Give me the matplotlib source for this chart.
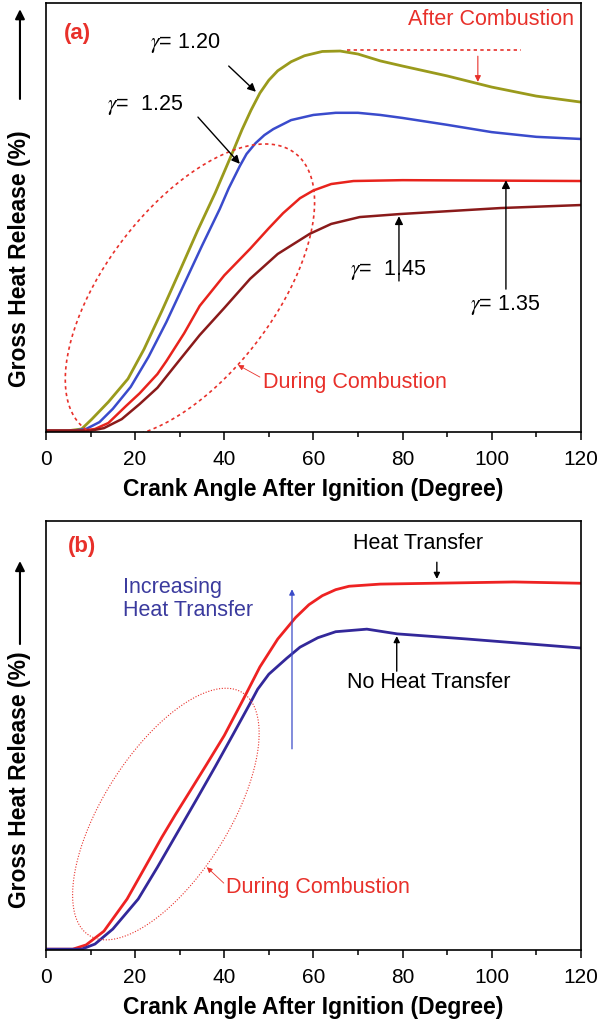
import numpy as np
import matplotlib
matplotlib.use("Agg")
import matplotlib.pyplot as plt
from matplotlib.ticker import MultipleLocator

plt.rcParams['font.family'] = ['Liberation Sans', 'DejaVu Sans']
plt.rcParams['mathtext.fontset'] = 'stix'

# ---- panel (a): gross heat release for several gamma values ----
x_g120 = [0, 5, 8, 10.3, 14, 18.4, 22, 26, 30, 34, 38, 42, 44, 46, 48, 50, 52, 55, 58, 62, 66, 70, 75, 80, 90, 100, 110, 120]
y_g120 = [0.3, 0.3, 0.7, 3.0, 7.0, 12.4, 19.3, 28.2, 37.5, 46.9, 55.8, 65.5, 70.5, 75.0, 79.0, 82.0, 84.2, 86.3, 87.7, 88.7, 88.8, 88.1, 86.5, 85.3, 83.0, 80.4, 78.3, 76.9]

x_g125 = [0, 6, 9, 12, 15, 19, 23, 27, 31, 35, 39, 41, 43.5, 45, 47, 49, 51, 55, 60, 65, 70, 75, 80, 90, 100, 110, 120]
y_g125 = [0.3, 0.3, 0.7, 2.3, 5.4, 10.5, 17.5, 25.6, 34.5, 43.4, 52.0, 56.8, 62.0, 64.8, 67.3, 69.2, 70.6, 72.7, 73.9, 74.4, 74.4, 73.9, 73.2, 71.6, 69.9, 68.8, 68.3]

x_g135 = [0, 8, 11, 14, 18, 21, 25, 27, 31, 34.5, 40, 45.8, 50, 53.2, 57, 60, 64, 69, 80, 100, 120]
y_g135 = [0.3, 0.3, 0.7, 2.1, 6.1, 9.0, 13.5, 16.5, 23.0, 29.4, 36.5, 42.7, 47.5, 51.0, 54.5, 56.3, 57.8, 58.5, 58.7, 58.6, 58.5]

x_g145 = [0, 10, 13, 17, 21, 25, 30, 34.5, 40, 45.8, 52, 59.2, 64, 70.4, 79.4, 102, 120]
y_g145 = [0.3, 0.3, 0.9, 3.0, 6.5, 10.3, 16.8, 22.6, 28.9, 35.7, 41.5, 46.2, 48.5, 50.1, 50.8, 52.2, 52.9]

# ---- panel (b): with / without heat transfer ----
x_ht = [0, 6, 9, 13, 18.2, 22, 26, 29, 32.3, 36, 40, 44.2, 48, 52, 56, 59, 62, 65, 68, 75, 87, 105, 120]
y_ht = [0.2, 0.2, 1.2, 4.4, 11.9, 18.9, 26.3, 31.5, 37.0, 43.2, 50.0, 58.3, 66.0, 72.5, 77.5, 80.5, 82.6, 84.0, 84.8, 85.3, 85.5, 85.8, 85.5]

x_noht = [0, 8, 11, 15, 20.7, 25, 29, 34, 38, 42, 45.8, 47.5, 50, 54, 57, 61, 65, 72, 78.8, 94.5, 120]
y_noht = [0.2, 0.2, 1.4, 4.9, 11.9, 19.3, 26.5, 35.5, 42.8, 50.3, 57.5, 60.8, 64.3, 68.0, 70.6, 72.8, 74.2, 74.8, 73.7, 72.5, 70.4]

xticks = [0, 20, 40, 60, 80, 100, 120]

RED = '#e8302a'
TXT_BLUE = '#3b3b9e'

fig = plt.figure(figsize=(6.05, 10.2), dpi=100)
ax1 = fig.add_axes([0.076, 0.5755, 0.884, 0.4206])
ax2 = fig.add_axes([0.076, 0.0676, 0.884, 0.4206])


def style_axis(ax):
    ax.set_xlim(0, 120)
    ax.set_ylim(0, 100)
    ax.set_xticks(xticks)
    ax.xaxis.set_minor_locator(MultipleLocator(10))
    ax.set_yticks([])
    ax.tick_params(axis='x', which='major', direction='out', length=6, width=1.1, labelsize=15, pad=6)
    ax.tick_params(axis='x', which='minor', direction='out', length=3.5, width=1.1)
    for s in ax.spines.values():
        s.set_linewidth(1.2)
    ax.set_xlabel('Crank Angle After Ignition (Degree)', fontsize=16.5, fontweight='bold', labelpad=7)


def ellipse(ax, center, u, v, **kw):
    t = np.linspace(0, 2 * np.pi, 200)
    ex = center[0] + np.cos(t) * u[0] + np.sin(t) * v[0]
    ey = center[1] + np.cos(t) * u[1] + np.sin(t) * v[1]
    ax.plot(ex, ey, **kw)


def arrow(ax, tip, tail, color='k', lw=1.0, ms=12):
    ax.annotate('', xy=tip, xytext=tail,
                arrowprops=dict(arrowstyle='-|>', color=color, lw=lw, mutation_scale=ms,
                                shrinkA=0, shrinkB=0))


# ---------------- panel (a) ----------------
ax1.plot(x_g120, y_g120, color='#9a9a1c', lw=2)
ax1.plot(x_g125, y_g125, color='#3a4bcc', lw=1.8)
ax1.plot(x_g135, y_g135, color='#e8231c', lw=1.8)
ax1.plot(x_g145, y_g145, color='#8a1a1a', lw=1.8)
style_axis(ax1)

ax1.text(7.1, 93.2, '(a)', color=RED, fontsize=16, fontweight='bold', ha='center', va='center')
ax1.text(99.8, 96.3, 'After Combustion', color=RED, fontsize=15.5, ha='center', va='center')
ax1.plot([67.5, 106.5], [89.0, 89.0], color=RED, lw=1.2, ls=(0, (2, 2)))
arrow(ax1, (96.9, 81.6), (96.9, 87.6), color=RED, lw=0.8, ms=9)

ax1.text(31.2, 90.8, r'$\gamma$= 1.20', fontsize=15.5, ha='center', va='center')
arrow(ax1, (47.1, 79.3), (41.0, 85.3))
ax1.text(22.3, 76.5, r'$\gamma$=  1.25', fontsize=15.5, ha='center', va='center')
arrow(ax1, (43.5, 62.5), (34.1, 73.4))
ax1.text(76.7, 38.0, r'$\gamma$=  1.45', fontsize=15.5, ha='center', va='center')
arrow(ax1, (79.2, 50.3), (79.2, 35.2))
ax1.text(103.0, 29.8, r'$\gamma$= 1.35', fontsize=15.5, ha='center', va='center')
arrow(ax1, (103.2, 58.7), (103.2, 33.3))

ellipse(ax1, (32.3, 32.9), (25.8, 29.6), (10.8, -17.2), color=RED, lw=1.2, ls=(0, (2, 2)))
ax1.text(48.6, 11.7, 'During Combustion', color=RED, fontsize=15.5, ha='left', va='center')
arrow(ax1, (43.1, 15.6), (48.0, 12.8), color=RED, lw=0.6, ms=8)

# ---------------- panel (b) ----------------
ax2.plot(x_ht, y_ht, color='#ee2222', lw=2)
ax2.plot(x_noht, y_noht, color='#33289a', lw=2)
style_axis(ax2)

ax2.text(8.0, 94.2, '(b)', color=RED, fontsize=16, fontweight='bold', ha='center', va='center')
ax2.text(83.4, 95.1, 'Heat Transfer', fontsize=15.5, ha='center', va='center')
arrow(ax2, (87.7, 86.5), (87.7, 90.4), ms=9)
ax2.text(85.9, 62.7, 'No Heat Transfer', fontsize=15.5, ha='center', va='center')
arrow(ax2, (78.7, 73.2), (78.7, 65.0), ms=9)
ax2.text(17.3, 82.0, 'Increasing\nHeat Transfer', color=TXT_BLUE, fontsize=15.5,
         ha='left', va='center', linespacing=1.1)
arrow(ax2, (55.2, 84.1), (55.2, 46.9), color='#3b4bc8', lw=0.9, ms=8)

ellipse(ax2, (26.9, 31.7), (18.8, 26.8), (9.2, -11.9), color=RED, lw=0.8, ls=(0, (1, 1.5)))
ax2.text(40.4, 14.7, 'During Combustion', color=RED, fontsize=15.5, ha='left', va='center')
arrow(ax2, (36.1, 19.3), (39.9, 15.6), color=RED, lw=0.6, ms=8)

# y labels with upward arrows (figure coordinates)
for yc, y0, y1 in [(0.746, 0.902, 0.990), (0.2353, 0.3676, 0.449)]:
    fig.text(0.033, yc, 'Gross Heat Release (%)', rotation=90, ha='center', va='center',
             fontsize=16.5, fontweight='bold')
    ax1.annotate('', xy=(0.033, y1), xytext=(0.033, y0), xycoords='figure fraction',
                 textcoords='figure fraction',
                 arrowprops=dict(arrowstyle='-|>', color='k', lw=1.5, mutation_scale=14,
                                 shrinkA=0, shrinkB=0))

fig.savefig('out.png', dpi=100)
